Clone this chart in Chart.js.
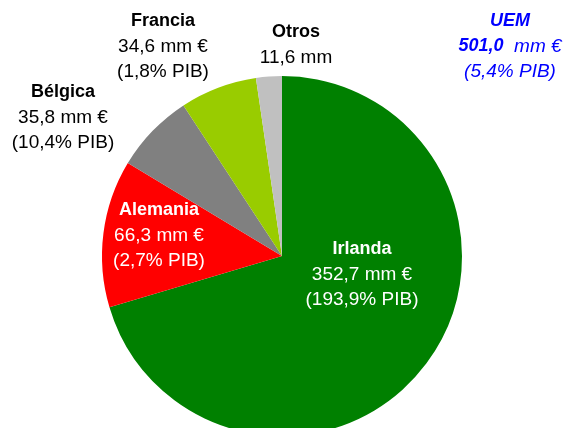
<!DOCTYPE html>
<html>
<head>
<meta charset="utf-8">
<script src="https://cdn.jsdelivr.net/npm/chart.js@4/dist/chart.umd.min.js"></script>
<style>
  html, body { margin: 0; padding: 0; background: #fff; overflow: hidden; }
</style>
</head>
<body>
<canvas id="pieChart" width="573" height="440"></canvas>
<script>
// datos
var paises = ['Irlanda', 'Alemania', 'Bélgica', 'Francia', 'Otros'];
var importes = [352.7, 66.3, 35.8, 34.6, 11.6];   // mm €
var pibPct = [193.9, 2.7, 10.4, 1.8, null];        // % PIB
var pibUEM = 5.4;
var colores = ['#008000', '#FF0000', '#808080', '#99CC00', '#C0C0C0'];

// posicion de las etiquetas (centro de la primera linea)
var etiquetas = [
    { x: 362, y: 249, color: '#FFFFFF' },
    { x: 159, y: 210, color: '#FFFFFF' },
    { x: 63, y: 92, color: '#000000' },
    { x: 163, y: 21, color: '#000000' },
    { x: 296, y: 32, color: '#000000' }
];

var fuente = '"Liberation Sans", Arial, sans-serif';
var lineH = 25.5;

function coma(v) {
    return v.toFixed(1).replace('.', ',');
}

var textoPlugin = {
    id: 'textos',
    afterDraw: function(chart) {
        var ctx = chart.ctx;
        ctx.save();
        ctx.textAlign = 'center';
        ctx.textBaseline = 'middle';
        paises.forEach(function(p, i) {
            var e = etiquetas[i];
            ctx.fillStyle = e.color;
            ctx.font = 'bold 18px ' + fuente;
            ctx.fillText(p, e.x, e.y);
            ctx.font = '19px ' + fuente;
            if (pibPct[i] === null) {
                ctx.fillText(coma(importes[i]) + ' mm', e.x, e.y + lineH);
            } else {
                ctx.fillText(coma(importes[i]) + ' mm €', e.x, e.y + lineH);
                ctx.fillText('(' + coma(pibPct[i]) + '% PIB)', e.x, e.y + 2 * lineH);
            }
        });

        // total UEM
        var total = importes.reduce(function(a, b) { return a + b; }, 0);
        var cx = 510, cy = 21;
        ctx.fillStyle = '#0000FF';
        ctx.font = 'italic bold 18px ' + fuente;
        ctx.fillText('UEM', cx, cy);
        var t1 = coma(total), t2 = '  mm €';
        var w1 = ctx.measureText(t1).width;
        ctx.font = 'italic 19px ' + fuente;
        var w2 = ctx.measureText(t2).width;
        var x0 = cx - (w1 + w2) / 2;
        ctx.textAlign = 'left';
        ctx.font = 'italic bold 18px ' + fuente;
        ctx.fillText(t1, x0, cy + lineH);
        ctx.font = 'italic 19px ' + fuente;
        ctx.fillText(t2, x0 + w1, cy + lineH);
        ctx.textAlign = 'center';
        ctx.fillText('(' + coma(pibUEM) + '% PIB)', cx, cy + 2 * lineH);
        ctx.restore();
    }
};

var ctx = document.getElementById('pieChart').getContext('2d');
var chart = new Chart(ctx, {
    type: 'pie',
    data: {
        labels: paises,
        datasets: [{
            data: importes,
            backgroundColor: colores,
            borderWidth: 0
        }]
    },
    options: {
        responsive: false,
        animation: false,
        layout: {
            padding: { top: 76, bottom: 4, left: 102, right: 111 }
        },
        plugins: {
            legend: { display: false },
            tooltip: { enabled: false }
        }
    },
    plugins: [textoPlugin]
});
</script>
</body>
</html>
